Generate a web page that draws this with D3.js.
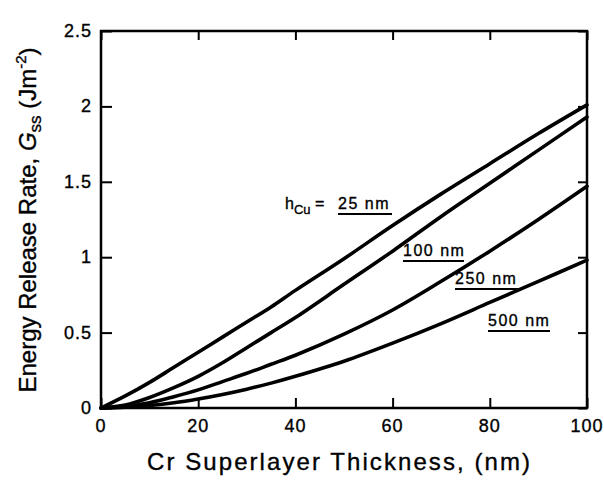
<!DOCTYPE html>
<html><head><meta charset="utf-8">
<script src="https://cdn.jsdelivr.net/npm/d3@7"></script>
<style>
body{margin:0;background:#fff;}
text{font-family:"Liberation Sans",Arial,Helvetica,sans-serif;fill:#000;stroke:#000;stroke-width:0.35px;}
</style></head>
<body>
<svg id="c" width="604" height="491"></svg>
<script>
const thickness = [0,5,10,15,20,25,30,35,40,50,60,70,80,90,100];
const g25  = [0,0.08,0.17,0.27,0.37,0.47,0.57,0.67,0.78,0.99,1.21,1.42,1.62,1.82,2.01];
const g100 = [0,0.02,0.07,0.135,0.21,0.30,0.40,0.50,0.60,0.82,1.04,1.27,1.49,1.71,1.93];
const g250 = [0,0.01,0.035,0.075,0.12,0.175,0.23,0.29,0.35,0.49,0.65,0.84,1.04,1.25,1.47];
const g500 = [0,0.005,0.017,0.035,0.06,0.09,0.125,0.165,0.21,0.31,0.43,0.56,0.70,0.84,0.98];
const xTicks = [0,20,40,60,80,100];
const yTicks = [0,0.5,1,1.5,2,2.5];
const yTickLabels = ["0","0.5","1","1.5","2","2.5"];

const svg = d3.select("#c");
const L=101,R=587,T=31,B=408;
const x = d3.scaleLinear().domain([0,100]).range([L,R]);
const y = d3.scaleLinear().domain([0,2.5]).range([B,T]);

const ax = (g, axis) => { g.call(axis); g.select(".domain").remove(); g.selectAll("line").attr("stroke","#000").attr("stroke-width",2); g.selectAll("text").remove(); };
svg.append("g").attr("transform",`translate(0,${B})`).call(g=>ax(g,d3.axisBottom(x).tickValues(xTicks).tickSize(-10)));
svg.append("g").attr("transform",`translate(0,${T})`).call(g=>ax(g,d3.axisTop(x).tickValues(xTicks).tickSize(-9)));
svg.append("g").attr("transform",`translate(${L},0)`).call(g=>ax(g,d3.axisLeft(y).tickValues(yTicks).tickSize(-11)));
svg.append("g").attr("transform",`translate(${R},0)`).call(g=>ax(g,d3.axisRight(y).tickValues(yTicks).tickSize(-9)));

svg.append("rect").attr("x",L).attr("y",T).attr("width",R-L).attr("height",B-T)
  .attr("fill","none").attr("stroke","#000").attr("stroke-width",2.5);

svg.selectAll(".xl").data(xTicks).enter().append("text")
  .attr("x",d=>x(d)).attr("y",432).attr("text-anchor","middle").attr("font-size",18)
  .attr("letter-spacing",1).text(d=>d);
svg.selectAll(".yl").data(yTicks).enter().append("text")
  .attr("x",92).attr("y",d=>y(d)+6).attr("text-anchor","end").attr("font-size",18)
  .attr("letter-spacing",1).text((d,i)=>yTickLabels[i]);

const line = d3.line().x((d,i)=>x(thickness[i])).y(d=>y(d)).curve(d3.curveCatmullRom);
[g25,g100,g250,g500].forEach(s=>{
  svg.append("path").attr("d",line(s)).attr("fill","none").attr("stroke","#000")
    .attr("stroke-width",3.6).attr("stroke-linecap","round");
});

const lab = svg.append("text").attr("x",285).attr("y",209).attr("font-size",16);
lab.append("tspan").text("h");
lab.append("tspan").attr("font-size",13).attr("dy",5).text("Cu");
lab.append("tspan").attr("dy",-5).text(" =");
svg.append("text").attr("x",338).attr("y",209).attr("font-size",16).attr("letter-spacing",1.5).text("25 nm");
svg.append("line").attr("x1",338).attr("x2",392).attr("y1",214).attr("y2",214).attr("stroke","#000").attr("stroke-width",2);

const labs = [["100 nm",403,256,464],["250 nm",455,284,518],["500 nm",488,326,550]];
labs.forEach(l=>{
  svg.append("text").attr("x",l[1]).attr("y",l[2]).attr("font-size",16).attr("letter-spacing",1.5).text(l[0]);
  svg.append("line").attr("x1",l[1]).attr("x2",l[3]).attr("y1",l[2]+5).attr("y2",l[2]+5).attr("stroke","#000").attr("stroke-width",2);
});

svg.append("text").attr("x",147).attr("y",470).attr("font-size",24)
  .attr("textLength",383).attr("lengthAdjust","spacing")
  .text("Cr Superlayer Thickness,  (nm)");
const yt = svg.append("text").attr("transform","translate(36,220) rotate(-90)").attr("text-anchor","middle").attr("font-size",24);
yt.append("tspan").text("Energy Release Rate,  ");
yt.append("tspan").attr("font-style","italic").text("G");
yt.append("tspan").attr("font-size",17).attr("dy",5).text("ss");
yt.append("tspan").attr("dy",-5).text(" (Jm");
yt.append("tspan").attr("font-size",15).attr("dy",-10).text("-2");
yt.append("tspan").attr("dy",10).text(")");
</script>
</body></html>
